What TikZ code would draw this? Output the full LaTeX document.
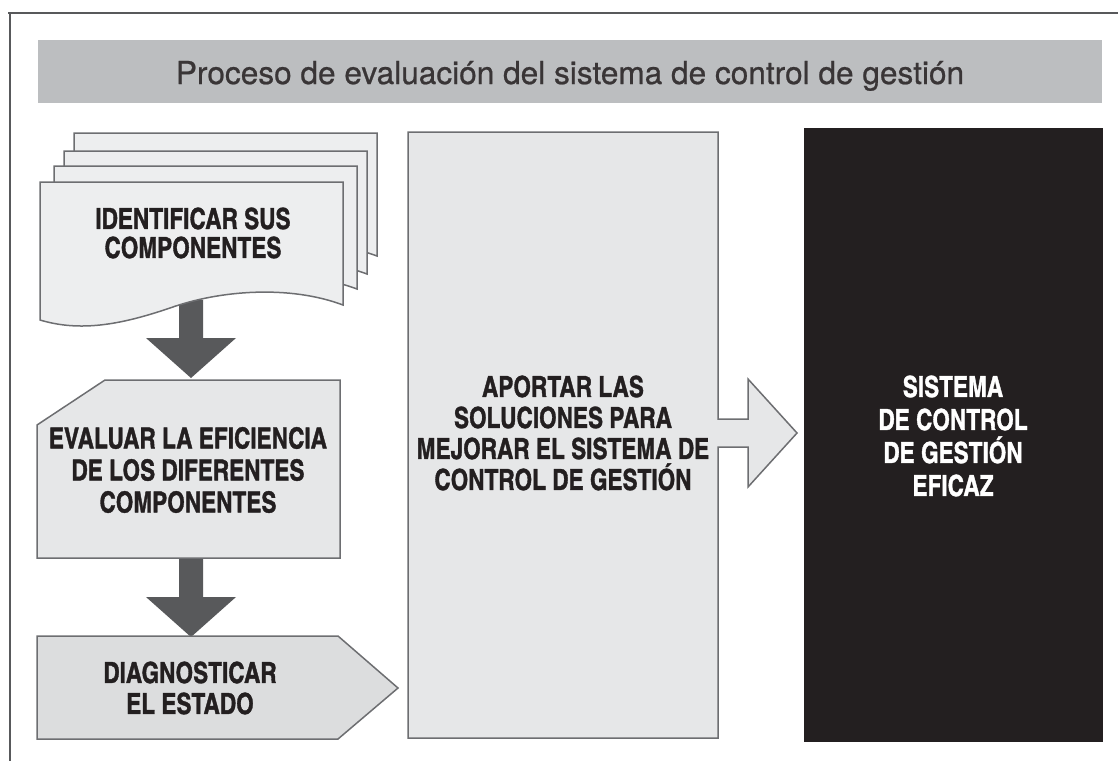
\documentclass[tikz,border=0pt]{standalone}
\usepackage{fontspec}
\newfontfamily\titlefont{TeX Gyre Heros}[FakeBold=0.7]
\newfontfamily\boxfont{texgyreheroscn-bold.otf}[FakeStretch=0.95, FakeBold=1.2]
\usetikzlibrary{positioning, calc}

\definecolor{titlegray}{HTML}{BCBEC0}
\definecolor{sheetgray}{HTML}{EDEEEF}
\definecolor{boxgray}{HTML}{E6E7E8}
\definecolor{diaggray}{HTML}{DCDDDE}
\definecolor{arrowgray}{HTML}{58595B}
\definecolor{edgegray}{HTML}{6D6E71}
\definecolor{nearblack}{HTML}{231F20}

\tikzset{
  boxline/.style={draw=edgegray, line width=0.75pt, line join=miter},
  boxtext/.style={align=center, text=nearblack, inner sep=0pt,
    font=\boxfont\fontsize{14.5}{#1}\selectfont},
  boxtext/.default=15.5,
}

% flecha gruesa hacia abajo
\newcommand{\blockdown}[2]{%
  \fill[arrowgray] ($(#1)+(-12,0)$) -- ($(#1)+(12,0)$) -- ($(#2)+(12,-40)$)
    -- ($(#2)+(45,-40)$) -- (#2) -- ($(#2)+(-45,-40)$) -- ($(#2)+(-12,-40)$) -- cycle;}

\begin{document}
\begin{tikzpicture}[x=0.5pt, y=-0.5pt]
    \useasboundingbox (0,0) rectangle (1118,761);

    % marco
    \draw[line width=1pt, arrowgray] (8,13) -- (1118,13);
    \draw[line width=1pt, arrowgray] (10,13) -- (10,761);

    % titulo
    \fill[titlegray] (38,40) rectangle (1102,103);
    \node[anchor=base, inner sep=0pt, text=nearblack!90,
      font=\titlefont\fontsize{15.8}{18}\selectfont] (titulo) at (570,84)
      {Proceso de evaluación del sistema de control de gestión};

    % flechas entre pasos
    \coordinate (identbot) at (191,300);
    \coordinate (evaltop) at (191,378);
    \coordinate (evalbot) at (191,555);
    \coordinate (diagtop) at (191,637);
    \blockdown{identbot}{evaltop}
    \blockdown{evalbot}{diagtop}

    % hojas de documento
    \foreach \dx/\dy in {34/49, 24/31, 14/16, 0/0}
      \filldraw[boxline, fill=sheetgray, shift={(\dx,-\dy)}]
        (40,182) -- (343,182) -- (343,305)
        .. controls (290,285) and (220,290) .. (170,308)
        .. controls (120,325) and (80,332) .. (40,320) -- cycle;
    \node[boxtext=14.5] (ident) at (193,233) {IDENTIFICAR SUS\\COMPONENTES};

    % evaluar
    \filldraw[boxline, fill=boxgray]
      (105,380) -- (340,380) -- (340,558) -- (37,558) -- (37,425) -- cycle;
    \node[boxtext=16] (eval) at (188,470)
      {EVALUAR LA EFICIENCIA\\DE LOS DIFERENTES\\COMPONENTES};

    % diagnosticar
    \filldraw[boxline, fill=diaggray]
      (37,636) -- (338,636) -- (398,688) -- (338,739) -- (37,739) -- cycle;
    \node[boxtext] (diag) at (190,688) {DIAGNOSTICAR\\EL ESTADO};

    % aportar + flecha
    \filldraw[boxline, fill=boxgray]
      (408,132) -- (718,132) -- (718,419) -- (748,419) -- (748,379)
      -- (797,433) -- (748,487) -- (748,447) -- (718,447) -- (718,738)
      -- (408,738) -- cycle;
    \node[boxtext] (aportar) at (563,433)
      {APORTAR LAS\\SOLUCIONES PARA\\MEJORAR EL SISTEMA DE\\CONTROL DE GESTIÓN};

    % resultado
    \fill[nearblack] (804,128) rectangle (1103,742);
    \node[boxtext=16.5, text=white] (sistema) at (953,436)
      {SISTEMA\\DE CONTROL\\DE GESTIÓN\\EFICAZ};

\end{tikzpicture}
\end{document}
